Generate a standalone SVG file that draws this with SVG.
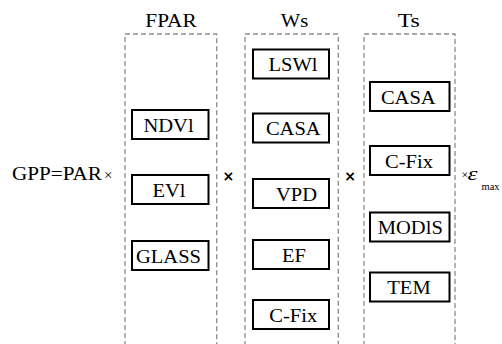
<svg xmlns="http://www.w3.org/2000/svg" width="502" height="344" viewBox="0 0 502 344">
  <style>
    .lbl { font-family: "Liberation Serif", "Times New Roman", serif; font-size: 18px; fill: #000; }
    .node rect { fill: #fff; stroke: #000; stroke-width: 2; }
    .group { fill: none; stroke: #8c8c8c; stroke-width: 1.3; stroke-dasharray: 5 3; }
    .op { font-family: "DejaVu Sans", "Liberation Sans", sans-serif; font-size: 14px; font-weight: bold; fill: #000; }
    .small { font-family: "Liberation Serif", "Times New Roman", serif; fill: #000; }
  </style>
  <rect width="502" height="344" fill="#fff"/>

  <!-- dashed factor columns, open at the bottom -->
  <g id="columns">
    <path class="group" d="M125,346 V34 H216.7 V346"/>
    <path class="group" d="M245,346 V34 H338.3 V346"/>
    <path class="group" d="M364,346 V34 H455 V346"/>
  </g>

  <!-- column headings -->
  <g id="headings">
    <text class="lbl" x="171" y="27" text-anchor="middle" textLength="51.3" lengthAdjust="spacingAndGlyphs">FPAR</text>
    <text class="lbl" x="294.5" y="27" text-anchor="middle" textLength="27.4" lengthAdjust="spacingAndGlyphs">Ws</text>
    <text class="lbl" x="408.7" y="27" text-anchor="middle" textLength="22" lengthAdjust="spacingAndGlyphs">Ts</text>
  </g>

  <!-- formula -->
  <g id="formula">
    <text class="lbl" x="12" y="180" textLength="90" lengthAdjust="spacingAndGlyphs">GPP=PAR</text>
    <text class="small" x="104" y="180" font-size="15" fill="#333">×</text>
    <text class="op" x="228.3" y="181" text-anchor="middle">×</text>
    <text class="op" x="350" y="181" text-anchor="middle">×</text>
    <text class="small" x="461.5" y="179" font-size="12" fill="#333">×</text>
    <text class="small" x="467.5" y="180" font-size="19" font-style="italic" textLength="10" lengthAdjust="spacingAndGlyphs">ε</text>
    <text class="small" x="481.5" y="189.5" font-size="11" textLength="18" lengthAdjust="spacingAndGlyphs">max</text>
  </g>

  <!-- FPAR options -->
  <g id="fpar-ndvi" class="node">
    <rect x="132" y="110" width="76.5" height="29"/>
    <text class="lbl" x="168.5" y="131.5" text-anchor="middle" textLength="50.2" lengthAdjust="spacingAndGlyphs">NDVl</text>
  </g>
  <g id="fpar-evi" class="node">
    <rect x="132" y="175" width="76.5" height="29"/>
    <text class="lbl" x="169" y="196.5" text-anchor="middle" textLength="33.1" lengthAdjust="spacingAndGlyphs">EVl</text>
  </g>
  <g id="fpar-glass" class="node">
    <rect x="132" y="241" width="76.5" height="29"/>
    <text class="lbl" x="168.5" y="262.5" text-anchor="middle" textLength="65" lengthAdjust="spacingAndGlyphs">GLASS</text>
  </g>

  <!-- Ws options -->
  <g id="ws-lswi" class="node">
    <rect x="253" y="49.5" width="76" height="29"/>
    <text class="lbl" x="293" y="71" text-anchor="middle" textLength="49" lengthAdjust="spacingAndGlyphs">LSWl</text>
  </g>
  <g id="ws-casa" class="node">
    <rect x="253" y="113.5" width="76" height="29"/>
    <text class="lbl" x="293.3" y="135" text-anchor="middle" textLength="54.7" lengthAdjust="spacingAndGlyphs">CASA</text>
  </g>
  <g id="ws-vpd" class="node">
    <rect x="253" y="179" width="76" height="29"/>
    <text class="lbl" x="296.5" y="200.5" text-anchor="middle" textLength="41" lengthAdjust="spacingAndGlyphs">VPD</text>
  </g>
  <g id="ws-ef" class="node">
    <rect x="253" y="240" width="76" height="29"/>
    <text class="lbl" x="294" y="261.5" text-anchor="middle" textLength="23.9" lengthAdjust="spacingAndGlyphs">EF</text>
  </g>
  <g id="ws-cfix" class="node">
    <rect x="253" y="300" width="76" height="29"/>
    <text class="lbl" x="293.3" y="321.5" text-anchor="middle" textLength="47.9" lengthAdjust="spacingAndGlyphs">C-Fix</text>
  </g>

  <!-- Ts options -->
  <g id="ts-casa" class="node">
    <rect x="370" y="82" width="79.5" height="29"/>
    <text class="lbl" x="408.3" y="103.5" text-anchor="middle" textLength="54.7" lengthAdjust="spacingAndGlyphs">CASA</text>
  </g>
  <g id="ts-cfix" class="node">
    <rect x="370" y="146" width="79.5" height="29"/>
    <text class="lbl" x="409" y="167.5" text-anchor="middle" textLength="47.9" lengthAdjust="spacingAndGlyphs">C-Fix</text>
  </g>
  <g id="ts-modis" class="node">
    <rect x="370" y="212.5" width="79.5" height="29"/>
    <text class="lbl" x="410.3" y="234" text-anchor="middle" textLength="65" lengthAdjust="spacingAndGlyphs">MODlS</text>
  </g>
  <g id="ts-tem" class="node">
    <rect x="370" y="272.5" width="79.5" height="29"/>
    <text class="lbl" x="409" y="294" text-anchor="middle" textLength="43.3" lengthAdjust="spacingAndGlyphs">TEM</text>
  </g>

  <!-- no connectors: the columns are joined by the × operators above -->
  <g id="connectors"/>
</svg>
